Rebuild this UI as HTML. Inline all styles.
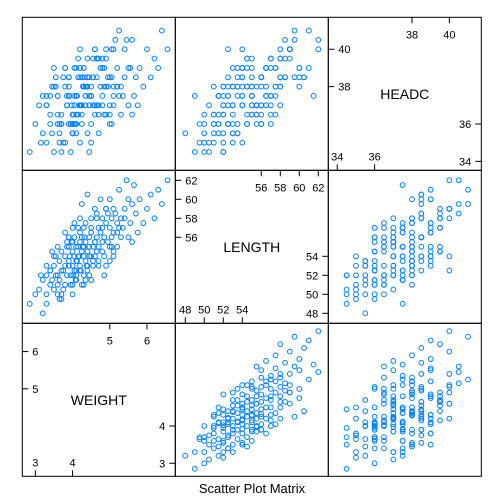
<!DOCTYPE html>
<html><head><meta charset="utf-8"><style>
html,body{margin:0;padding:0;background:#fff;}
svg{display:block;font-family:"Liberation Sans",sans-serif;}
</style></head><body>
<svg id="chart" width="504" height="504" viewBox="0 0 504 504" xmlns="http://www.w3.org/2000/svg">
<text x="252" y="493" text-anchor="middle" font-size="13">Scatter Plot Matrix</text>
</svg>
<script>
const varNames=["WEIGHT","LENGTH","HEADC"];
const lowTicks=[[3,4],[48,50,52,54],[34,36]];
const highTicks=[[5,6],[56,58,60,62],[38,40]];
const weight=[2.85,3.2,3.0,3.1,3.3,3.4,3.2,3.5,3.6,3.3,3.45,3.55,3.7,3.6,3.8,3.75,3.9,3.85,3.5,3.65,
3.9,4.0,4.05,4.1,4.0,4.15,4.2,4.1,4.25,4.3,4.2,4.35,3.95,4.05,4.15,4.3,4.4,4.25,4.0,3.8,3.7,4.45,4.4,4.35,4.2,4.1,3.9,4.3,4.5,4.55,
4.6,4.65,4.7,4.75,4.8,4.6,4.85,4.9,4.7,4.95,5.0,5.05,4.5,4.55,4.8,5.1,5.15,5.2,4.65,4.9,
5.3,5.4,5.5,5.35,5.6,5.7,5.8,5.25,5.5,6.0,6.1,6.2,5.9,6.3,6.55,5.45,5.65,6.4,5.0,5.2,
3.6,3.75,3.4,3.95,4.0,4.3,4.45,3.55,3.85,4.05,4.15,4.35,4.5,4.6,4.25,4.45,4.7,4.85,5.0,5.1,4.95,5.3,5.55,5.75,5.1,4.75,4.4,3.7,3.3,3.15,4.5,4.2,4.55,4.0,3.9,4.65,4.8,5.05,5.4,5.6,3.8,4.1,4.35,3.65,4.9,
3.3,3.5,3.7,3.9,4.1,4.3,4.5,4.7,4.9,5.1,3.4,3.6,3.8,4.0,4.2,4.4,4.6,4.8,5.0,5.2,3.45,3.65,3.85,4.05,4.25,4.45,4.65,4.85,5.05,5.25,4.12,4.28,4.02,3.98,4.38,4.18,4.08,4.32,3.92,4.22];
const length=[49,48,50,50.5,50,51,51.5,50.5,51,52,51.5,52,52.5,52,51,52.5,53,52,53,53.5,
53.5,53,54,53.5,54.5,54,53,55,54.5,54,55.5,53.5,52,52.5,55,55,54.5,56,55.5,54,54.5,56,53,55.5,52.5,51.5,55,52,54,55,
55.5,56,55,56.5,57,54,56,57.5,57,55.5,57,58,57,53.5,54.5,56.5,58.5,57.5,58,59,
58,59,60,57,59.5,58.5,60,61,56,59,60.5,58,57.5,61,62,62,61.5,59.5,60,55,
50,50.5,52.5,51,50,51,52,54,55.5,56,57,57.5,58,59,59.5,55,53.5,54,55,54.5,58.5,56,57.5,56.5,59,60,60.5,49.5,49,52,56.5,56.5,53,57,56,54.5,55.5,56,58,55.5,53,52,51.5,51.5,53,
53,54,50,56,52.5,57,51.5,53,59,54,52.5,55,56.5,51,58,52.5,55.5,58,53.5,56.5,54.5,49.5,55,57.5,51,54,58.5,52,55,57,53.5,55,52,55.5,53,54,51.5,56,54,52.5];
const headc=[34.5,35.5,36,37,35,36.5,37.5,34.5,36,37,35.5,38,36,37.5,35,38.5,36,37,39,35.5,
38,35.5,37,39,36,38.5,35,37.5,36,39,37,38,34.5,37.5,36.5,38,39.5,37,36,39,36.5,38.5,35.5,37,40,36.5,37.5,38,35,39.5,
36.5,38.5,37,39,37.5,40,38,36.5,39.5,38,37,40,36,38.5,39,37.5,40.5,38,37,39.5,
38,40,39,37.5,40.5,38.5,39,41,37,40,38.5,39.5,38,39,40,40.5,37.5,41,38.5,39,
36.5,35,37.5,36,35.5,38,34.5,38.5,37,36,39.5,37.5,38,40,38.5,37,35.5,39,36.5,38,38.5,36.5,39,37,40,38,38.5,36,37.5,35,37.5,39,37,36.5,38.5,39.5,37,36,38.5,36.5,38,35.5,37.5,36,38,
37,38,34.5,38.5,36,39,37.5,36.5,40,37,36,37.5,39,35.5,38.5,38,37,39.5,36,38,38,35,37.5,39,36.5,37.5,39.5,36.5,38.5,37.5,37.5,38,36.5,37,38,37,36,38.5,37.5,37];
const series=[weight,length,headc];
const ranges=[[2.65,6.76],[46.95,63.05],[33.52,41.71]];
const X0=22.3,Y0=17.3,S=153;
const NS="http://www.w3.org/2000/svg";
const svg=document.getElementById('chart');
function mk(t,a){const e=document.createElementNS(NS,t);for(const k in a)e.setAttribute(k,a[k]);return e;}
function sx(v,col,val){const r=ranges[v];return X0+col*S+(val-r[0])/(r[1]-r[0])*S;}
function sy(v,row,val){const r=ranges[v];return Y0+(row+1)*S-(val-r[0])/(r[1]-r[0])*S;}
for(let row=0;row<3;row++){for(let col=0;col<3;col++){
 const yv=2-row,xv=col;
 const g=mk('g',{});
 
 
 svg.appendChild(g);
 const rect=mk('rect',{x:X0+col*S,y:Y0+row*S,width:S,height:S,fill:'none',stroke:'#000','stroke-width':1});
 
 
 g.appendChild(rect);
 if(xv===yv){
  const px0=X0+col*S,py0=Y0+row*S,px1=px0+S,py1=py0+S;
  const t=mk('text',{x:px0+S/2,y:py0+S/2+5,'text-anchor':'middle','font-size':14});
  t.textContent=varNames[xv];
  
  
  g.appendChild(t);
  highTicks[xv].forEach(v=>{
   const x=sx(xv,col,v),y=sy(yv,row,v);
   g.appendChild(mk('line',{x1:x,y1:py0,x2:x,y2:py0+6,stroke:'#000'}));
   let a=mk('text',{x:x,y:py0+21,'text-anchor':'middle','font-size':11});a.textContent=v;
   g.appendChild(a);
   g.appendChild(mk('line',{x1:px0,y1:y,x2:px0+6,y2:y,stroke:'#000'}));
   let b=mk('text',{x:px0+10,y:y+4,'text-anchor':'start','font-size':11});b.textContent=v;
   g.appendChild(b);
  });
  lowTicks[xv].forEach(v=>{
   const x=sx(xv,col,v),y=sy(yv,row,v);
   g.appendChild(mk('line',{x1:x,y1:py1,x2:x,y2:py1-6,stroke:'#000'}));
   let a=mk('text',{x:x,y:py1-10,'text-anchor':'middle','font-size':11});a.textContent=v;
   g.appendChild(a);
   g.appendChild(mk('line',{x1:px1,y1:y,x2:px1-6,y2:y,stroke:'#000'}));
   let b=mk('text',{x:px1-10,y:y+4,'text-anchor':'end','font-size':11});b.textContent=v;
   g.appendChild(b);
  });
 } else {
  for(let i=0;i<series[xv].length;i++){
   const c=mk('circle',{cx:sx(xv,col,series[xv][i]),cy:sy(yv,row,series[yv][i]),r:2.4,fill:'none',stroke:'#0080ff','stroke-width':1});
   
   
   g.appendChild(c);
  }
 }
}}
</script>
</body></html>
